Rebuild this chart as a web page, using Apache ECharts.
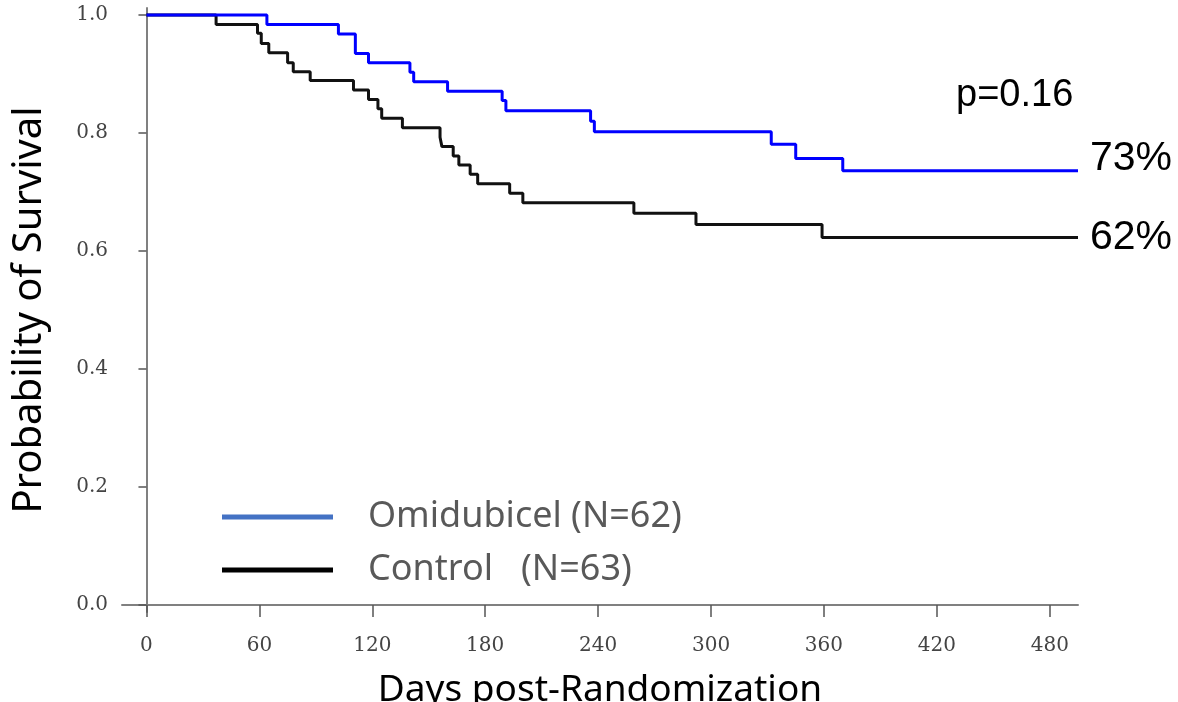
<!DOCTYPE html>
<html>
<head>
<meta charset="utf-8">
<title>Survival</title>
<script src="https://cdn.jsdelivr.net/npm/echarts@6/dist/echarts.min.js"></script>
<style>
  html, body { margin: 0; padding: 0; background: #fff; }
  #chart { width: 1178px; height: 702px; }
</style>
</head>
<body>
<div id="chart"></div>
<script>
// Kaplan-Meier steps: day of the drop, survival after it
const omidName = 'Omidubicel (N=62)'
const omidDays = [0, 64, 102, 111, 118, 140, 142, 160, 189, 191, 236, 238, 332, 345, 370, 495]
const omidSurv = [1.0, 0.984, 0.968, 0.935, 0.919, 0.903, 0.887, 0.871, 0.855, 0.838, 0.82, 0.802, 0.781, 0.757, 0.736, 0.736]

const ctrlName = 'Control   (N=63)'
const ctrlDays = [0, 37, 59, 61, 65, 75, 78, 87, 110, 118, 123, 125, 136, 156, 157, 163, 166, 172, 176, 193, 200, 259, 292, 359, 495]
const ctrlSurv = [1.0, 0.984, 0.969, 0.952, 0.936, 0.919, 0.904, 0.889, 0.873, 0.857, 0.841, 0.825, 0.809, 0.793, 0.777, 0.761, 0.746, 0.73, 0.714, 0.698, 0.682, 0.664, 0.645, 0.623, 0.623]

const xTicks = [0, 60, 120, 180, 240, 300, 360, 420, 480]
const yTicks = [0, 0.2, 0.4, 0.6, 0.8, 1.0]

const pText = 'p=0.16'
const omidEnd = '73%'
const ctrlEnd = '62%'

function pairs(xs, ys) {
  return xs.map((x, i) => [x, ys[i]])
}

const chart = echarts.init(document.getElementById('chart'))
const tickFont = { fontFamily: 'DejaVu Serif', fontSize: 20, color: '#444' }

chart.setOption({
  backgroundColor: '#fff',
  animation: false,
  grid: {
    left: 122,
    right: 100,
    top: 8,
    bottom: 90,
    containLabel: false,
    outerBoundsMode: 'none'
  },
  legend: {
    orient: 'vertical',
    left: 217,
    top: 493,
    itemWidth: 111,
    itemHeight: 5,
    itemGap: 15,
    icon: 'rect',
    selectedMode: false,
    textStyle: {
      fontFamily: 'Noto Sans',
      fontSize: 36,
      lineHeight: 38,
      color: '#595959',
      padding: [0, 0, 0, 30]
    },
    data: [
      { name: omidName, itemStyle: { color: '#4472C4' } },
      { name: ctrlName, itemStyle: { color: '#000' } }
    ]
  },
  xAxis: {
    type: 'value',
    min: -13,
    max: 495,
    name: 'Days post-Randomization',
    nameLocation: 'middle',
    nameGap: 60,
    nameTextStyle: { fontFamily: 'Noto Sans', fontSize: 37, color: '#000' },
    axisLine: { show: true, lineStyle: { color: '#808080', width: 2 } },
    axisTick: { show: true, length: 12, customValues: xTicks, lineStyle: { color: '#555', width: 1.5 } },
    axisLabel: Object.assign({ margin: 24, customValues: xTicks }, tickFont),
    splitLine: { show: false }
  },
  yAxis: {
    type: 'value',
    min: -0.012,
    max: 1.012,
    name: 'Probability of Survival',
    nameLocation: 'middle',
    nameGap: 72,
    nameTextStyle: { fontFamily: 'Noto Sans', fontSize: 40, color: '#000' },
    axisLine: { show: true, lineStyle: { color: '#808080', width: 2 } },
    axisTick: { show: true, length: 8, customValues: yTicks, lineStyle: { color: '#555', width: 1.5 } },
    axisLabel: Object.assign({
      margin: 14,
      customValues: yTicks,
      formatter: v => v.toFixed(1)
    }, tickFont),
    splitLine: { show: false }
  },
  series: [
    {
      name: omidName,
      type: 'line',
      step: 'end',
      showSymbol: false,
      data: pairs(omidDays, omidSurv),
      lineStyle: { color: '#0000ff', width: 3 },
      itemStyle: { color: '#4472C4' },
      z: 3
    },
    {
      name: ctrlName,
      type: 'line',
      step: 'end',
      showSymbol: false,
      data: pairs(ctrlDays, ctrlSurv),
      lineStyle: { color: '#111', width: 3 },
      itemStyle: { color: '#000' },
      z: 2
    }
  ],
  graphic: [
    {
      type: 'text',
      left: 956,
      top: 77,
      style: { text: pText, font: '38px "Liberation Sans"', fill: '#000' }
    },
    {
      type: 'text',
      left: 1090,
      top: 138,
      style: { text: omidEnd, font: '41px "Liberation Sans"', fill: '#000' }
    },
    {
      type: 'text',
      left: 1090,
      top: 217,
      style: { text: ctrlEnd, font: '41px "Liberation Sans"', fill: '#000' }
    }
  ]
})
</script>
</body>
</html>
